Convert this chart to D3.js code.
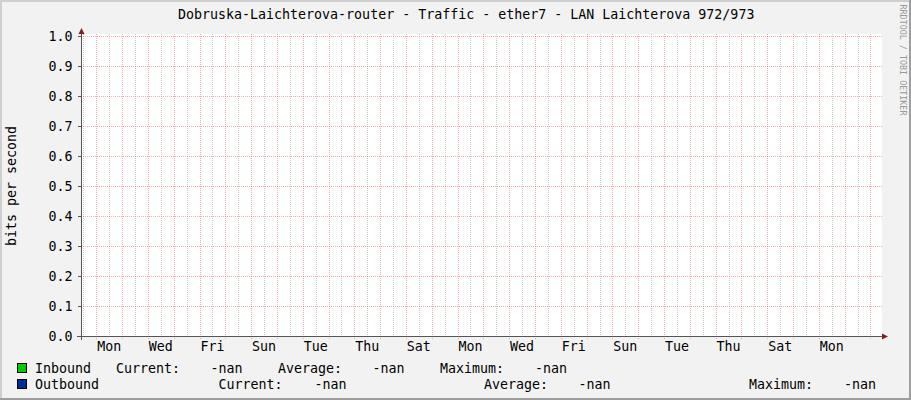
<!DOCTYPE html>
<html>
<head>
<meta charset="utf-8">
<script src="https://cdn.jsdelivr.net/npm/d3@7"></script>
<style>
  html, body { margin: 0; padding: 0; background: #F2F2F2; }
  svg { display: block; }
  text { font-family: "DejaVu Sans Mono", monospace; fill: #000; }
</style>
</head>
<body>
<svg id="chart" width="911" height="400"></svg>
<script>
// ---------- data ----------
const title = "Dobruska-Laichterova-router - Traffic - ether7 - LAN Laichterova 972/973";
const yAxisTitle = "bits per second";
const watermark = "RRDTOOL / TOBI OETIKER";
const yTickValues = [0.0, 0.1, 0.2, 0.3, 0.4, 0.5, 0.6, 0.7, 0.8, 0.9, 1.0];
const yTickLabels = ["0.0", "0.1", "0.2", "0.3", "0.4", "0.5", "0.6", "0.7", "0.8", "0.9", "1.0"];
const xTickLabels = ["Mon", "Wed", "Fri", "Sun", "Tue", "Thu", "Sat", "Mon", "Wed", "Fri", "Sun", "Tue", "Thu", "Sat", "Mon"];
const timeStart = Date.UTC(2024, 0, 7, 9, 47);   // Sun 09:47
const timeEnd = Date.UTC(2024, 1, 7, 9, 47);     // 31 days later
const firstLabelDay = Date.UTC(2024, 0, 8);      // Monday
const seriesNames = ["Inbound", "Outbound"];
const statNames = ["Current:", "Average:", "Maximum:"];
const inboundStats = ["-nan", "-nan", "-nan"];
const outboundStats = ["-nan", "-nan", "-nan"];
// all samples are unknown (NaN) in the reference
const inboundValues = [null, null, null, null, null, null, null, null, null, null, null, null, null, null, null, null];
const outboundValues = [null, null, null, null, null, null, null, null, null, null, null, null, null, null, null, null];

// ---------- layout ----------
const W = 911, H = 400;
const X0 = 81, X1 = 881, Y0 = 336, Y1 = 36;
const svg = d3.select("#chart");

// background + 3D frame
svg.append("rect").attr("x", 0).attr("y", 0).attr("width", W).attr("height", H).attr("fill", "#F2F2F2");
svg.append("path").attr("fill", "#CFCFCF")
  .attr("d", `M0,0H${W}V2H2V${H}H0Z`);
svg.append("path").attr("fill", "#9E9E9E")
  .attr("d", `M${W},0V${H}H0V${H-2}H${W-2}V0Z`);

const x = d3.scaleUtc().domain([new Date(timeStart), new Date(timeEnd)]).range([X0, X1]);
const y = d3.scaleLinear().domain([0, 1]).range([Y0, Y1]);

// canvas
svg.append("rect").attr("x", X0).attr("y", Y1 - 2).attr("width", X1 - X0 + 1).attr("height", Y0 - Y1 + 2).attr("fill", "#FFFFFF");

const grid = svg.append("g").attr("shape-rendering", "crispEdges");
const minorColor = "rgba(143,143,143,0.45)";
const majorColor = "rgba(230,70,70,0.45)";

// vertical minor lines at noon
const minorTicks = x.ticks(d3.utcHour.every(12)).filter(d => d.getUTCHours() === 12);
const majorTicks = x.ticks(d3.utcDay.every(1)).filter(d => d.getUTCHours() === 0);
minorTicks.forEach(d => {
  const px = Math.round(x(d)) + 0.5;
  grid.append("line").attr("x1", px).attr("x2", px).attr("y1", Y1 - 2).attr("y2", Y0 + 2)
    .attr("stroke", minorColor).attr("stroke-width", 1).attr("stroke-dasharray", "1,1");
});
majorTicks.forEach(d => {
  const px = Math.round(x(d)) + 0.5;
  grid.append("line").attr("x1", px).attr("x2", px).attr("y1", Y1 - 2).attr("y2", Y0 + 3)
    .attr("stroke", majorColor).attr("stroke-width", 1).attr("stroke-dasharray", "1,1");
});
// horizontal major lines
yTickValues.forEach(v => {
  const py = Math.round(y(v)) + 0.5;
  grid.append("line").attr("x1", X0 - 2).attr("x2", X1 + 1).attr("y1", py).attr("y2", py)
    .attr("stroke", majorColor).attr("stroke-width", 1).attr("stroke-dasharray", "1,1");
});

// series (all unknown -> nothing drawn)
const area = d3.area()
  .defined(d => d.v !== null && !isNaN(d.v))
  .x(d => x(d.t)).y0(Y0).y1(d => y(d.v));
const toPts = arr => arr.map((v, i) => ({ t: new Date(timeStart + i * (timeEnd - timeStart) / (arr.length - 1)), v }));
svg.append("path").datum(toPts(inboundValues)).attr("fill", "#00CC00").attr("d", area);
const line = d3.line().defined(d => d.v !== null && !isNaN(d.v)).x(d => x(d.t)).y(d => y(d.v));
svg.append("path").datum(toPts(outboundValues)).attr("fill", "none").attr("stroke", "#002A97").attr("d", line);

// axes
const axes = svg.append("g").attr("shape-rendering", "crispEdges");
axes.append("line").attr("x1", X0 - 4).attr("x2", X1 + 4).attr("y1", Y0 + 0.5).attr("y2", Y0 + 0.5)
  .attr("stroke", "#555555").attr("stroke-width", 1);
axes.append("line").attr("x1", X0 + 0.5).attr("x2", X0 + 0.5).attr("y1", Y0 + 4).attr("y2", Y1 - 4)
  .attr("stroke", "#555555").attr("stroke-width", 1);
yTickValues.forEach(v => {
  const py = Math.round(y(v)) + 0.5;
  axes.append("line").attr("x1", X0 - 3).attr("x2", X0).attr("y1", py).attr("y2", py)
    .attr("stroke", "#555555");
});
// arrows
svg.append("path").attr("fill", "#801F1F")
  .attr("d", `M${X1 + 1},${Y0 - 2.5}L${X1 + 7},${Y0 + 0.5}L${X1 + 1},${Y0 + 3.5}Z`);
svg.append("path").attr("fill", "#801F1F")
  .attr("d", `M${X0 - 2.5},${Y1 - 2}L${X0 + 0.5},${Y1 - 8}L${X0 + 3.5},${Y1 - 2}Z`);

// y tick labels
svg.append("g").selectAll("text").data(yTickValues).join("text")
  .attr("x", 72.5).attr("y", v => y(v) + 5)
  .attr("text-anchor", "end").attr("font-size", "13.3px")
  .text((v, i) => yTickLabels[i]);

// x tick labels at noon of every second day
svg.append("g").selectAll("text").data(xTickLabels).join("text")
  .attr("x", (d, i) => x(new Date(firstLabelDay + (i * 2 * 24 + 12) * 3600 * 1000)))
  .attr("y", 351)
  .attr("text-anchor", "middle").attr("font-size", "13.3px")
  .text(d => d);

// title
svg.append("text").attr("x", 178).attr("y", 19).attr("font-size", "13.3px").text(title);

// y axis title
svg.append("text").attr("transform", "translate(16,186) rotate(-90)")
  .attr("text-anchor", "middle").attr("font-size", "13.3px").text(yAxisTitle);

// watermark
svg.append("text").attr("transform", "translate(900,4.5) rotate(90)")
  .attr("font-size", "8.4px").style("fill", "#999999").text(watermark);

// legend
const legendRows = [
  { name: seriesNames[0], color: "#00CC00", boxY: 363, base: 373,
    stats: inboundStats, pos: [[35, seriesNames[0]], [116, statNames[0]], [210.5, 0], [278, statNames[1]], [372.5, 1], [440, statNames[2]], [535, 2]] },
  { name: seriesNames[1], color: "#002A97", boxY: 379, base: 389,
    stats: outboundStats, pos: [[35, seriesNames[1]], [218.5, statNames[0]], [314.5, 0], [484, statNames[1]], [578.5, 1], [749, statNames[2]], [844, 2]] }
];
const lg = svg.append("g");
legendRows.forEach(r => {
  lg.append("rect").attr("x", 17.5).attr("y", r.boxY + 0.5).attr("width", 9).attr("height", 9)
    .attr("fill", r.color).attr("stroke", "#000").attr("stroke-width", 1).attr("shape-rendering", "crispEdges");
  r.pos.forEach(([px, t]) => {
    lg.append("text").attr("x", px).attr("y", r.base).attr("font-size", "13.3px")
      .text(typeof t === "number" ? r.stats[t] : t);
  });
});
</script>
</body>
</html>
